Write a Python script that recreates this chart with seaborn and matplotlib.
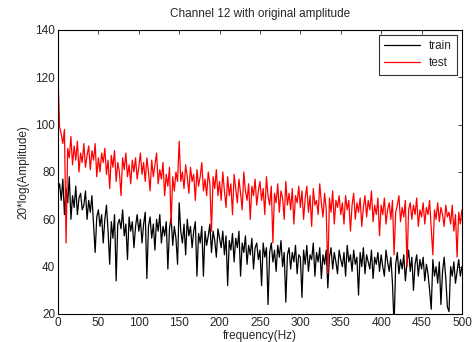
import numpy as np
import pandas as pd
import matplotlib
matplotlib.use("Agg")
import matplotlib.pyplot as plt
import seaborn as sns

# frequency grid, 2 Hz steps (0..500)
freq = list(range(0, 501, 2))

# values, 25 per line (50 Hz per line)
train = [
    72, 75, 68, 77, 62, 73, 67, 78, 60, 70, 65, 74, 62, 69, 71, 64, 66, 72, 60, 68, 63, 70, 58, 46, 61,
    64, 57, 62, 50, 60, 66, 55, 41, 59, 52, 62, 34, 58, 60, 56, 64, 53, 58, 43, 61, 55, 59, 48, 57, 62,
    55, 60, 50, 58, 63, 35, 57, 61, 52, 58, 47, 60, 55, 62, 50, 57, 53, 59, 39, 56, 61, 49, 57, 52, 41,
    67, 55, 50, 58, 45, 60, 53, 57, 48, 55, 59, 36, 54, 50, 57, 36, 55, 49, 53, 58, 46, 55, 51, 44, 56,
    52, 48, 55, 45, 53, 32, 51, 47, 54, 42, 52, 48, 55, 36, 50, 46, 53, 41, 49, 45, 52, 39, 48, 50, 43,
    47, 32, 50, 44, 48, 24, 46, 50, 42, 47, 38, 49, 44, 51, 40, 46, 25, 45, 48, 39, 46, 42, 49, 37, 45,
    44, 27, 47, 41, 49, 38, 45, 43, 50, 36, 46, 42, 48, 35, 45, 41, 47, 31, 44, 48, 39, 46, 42, 37, 47,
    43, 40, 46, 36, 49, 42, 45, 38, 47, 41, 44, 28, 46, 40, 48, 37, 45, 42, 39, 47, 35, 44, 41, 46, 38,
    45, 40, 36, 47, 42, 38, 44, 33, 15, 41, 46, 37, 43, 39, 45, 34, 42, 47, 38, 44, 30, 41, 45, 36, 43,
    39, 44, 34, 41, 37, 30, 22, 43, 36, 40, 33, 42, 24, 38, 44, 35, 23, 21, 40, 36, 42, 33, 38, 43, 36,
    40,
]
test = [
    121, 99, 96, 92, 98, 50, 90, 86, 95, 83, 91, 85, 93, 80, 88, 84, 92, 82, 87, 91, 81, 89, 85, 92, 78,
    86, 80, 88, 84, 90, 79, 85, 73, 87, 82, 89, 76, 84, 80, 70, 86, 81, 88, 78, 83, 75, 85, 80, 86, 77,
    82, 88, 79, 84, 76, 86, 80, 72, 85, 78, 83, 88, 75, 81, 77, 84, 70, 79, 74, 82, 58, 78, 72, 80, 76,
    93, 76, 80, 73, 83, 78, 71, 82, 76, 79, 68, 81, 74, 78, 84, 72, 77, 70, 80, 75, 55, 78, 73, 81, 70,
    76, 68, 80, 72, 65, 78, 70, 75, 62, 79, 73, 67, 77, 71, 64, 80, 72, 68, 75, 60, 74, 70, 77, 66, 72,
    76, 68, 73, 62, 78, 70, 66, 74, 50, 71, 67, 75, 63, 72, 69, 60, 76, 66, 71, 64, 73, 58, 70, 67, 74,
    65, 72, 60, 69, 74, 63, 70, 57, 73, 66, 68, 62, 75, 67, 61, 71, 64, 37, 69, 63, 72, 58, 68, 65, 70,
    62, 67, 58, 70, 64, 68, 55, 66, 71, 60, 67, 63, 69, 57, 65, 70, 61, 68, 64, 72, 59, 66, 62, 69, 53,
    66, 62, 69, 58, 64, 67, 60, 68, 45, 63, 66, 70, 59, 65, 61, 68, 40, 64, 67, 60, 66, 62, 69, 57, 64,
    61, 67, 58, 65, 62, 68, 56, 45, 64, 60, 67, 59, 65, 62, 57, 66, 61, 63, 58, 66, 55, 62, 44, 63, 58,
    64,
]

df = pd.DataFrame({
    "freq": freq * 2,
    "amp": train + test,
    "set": ["train"] * len(freq) + ["test"] * len(freq),
})

sns.set_style("white")
plt.rcParams["font.family"] = ["Liberation Sans", "DejaVu Sans"]
plt.rcParams["font.size"] = 8.5

fig = plt.figure(figsize=(4.73, 3.42), dpi=100)
ax = fig.add_axes([0.1226, 0.0819, 0.854, 0.8304])

sns.lineplot(data=df, x="freq", y="amp", hue="set",
             palette={"train": "black", "test": "red"},
             linewidth=0.9, ax=ax, estimator=None, sort=False)

ax.set_xlim(0, 500)
ax.set_ylim(20, 140)
ax.set_xticks(range(0, 501, 50))
ax.set_yticks(range(20, 141, 20))
ax.tick_params(direction="in", top=True, right=True, length=3,
               width=0.6, labelsize=8.5, pad=2)
for s in ax.spines.values():
    s.set_linewidth(0.8)
    s.set_color("black")

ax.set_title("Channel 12 with original amplitude", fontsize=8.5, pad=9)
ax.set_xlabel("frequency(Hz)", fontsize=8.5, labelpad=1)
ax.set_ylabel("20*log(Amplitude)", fontsize=8.5, labelpad=4)

leg = ax.legend(loc="upper right", fontsize=8.5, frameon=True, fancybox=False,
                handlelength=3.0, borderaxespad=0.4, borderpad=0.45,
                labelspacing=0.45, handletextpad=0.8)
leg.get_frame().set_edgecolor("black")
leg.get_frame().set_linewidth(0.8)
leg.set_title(None)

fig.savefig("out.png", dpi=100)
